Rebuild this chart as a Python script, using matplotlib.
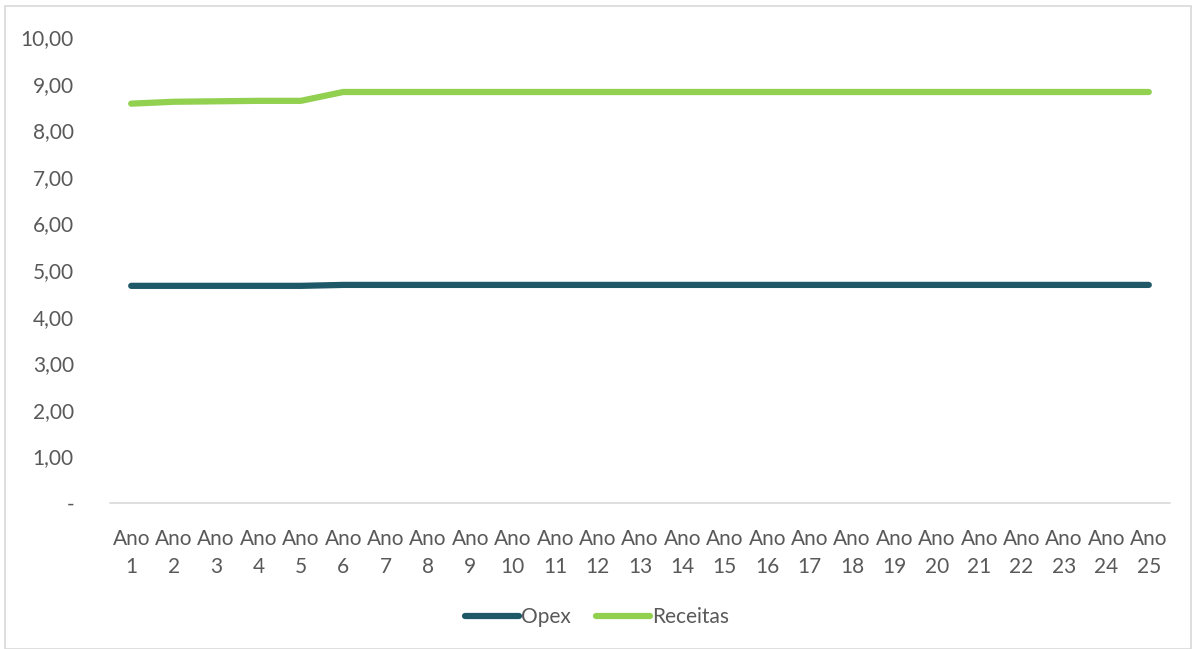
import numpy as np
import matplotlib.pyplot as plt
from matplotlib.patches import Rectangle

# dados
anos = [f"Ano\n{i}" for i in range(1, 26)]
opex = [4.66, 4.66, 4.66, 4.66, 4.66] + [4.68] * 20
receitas = [8.57, 8.61, 8.62, 8.63, 8.63] + [8.82] * 20

plt.rcParams["font.family"] = ["Lato", "DejaVu Sans"]
text_color = "#595959"

fig = plt.figure(figsize=(11.94, 6.49), dpi=100)
ax = fig.add_axes([110 / 1194, 146 / 649, 1060 / 1194, 466 / 649])

# borda do gráfico
fig.patches.append(Rectangle((5 / 1194, 0.0), 1186 / 1194, 643 / 649,
                             transform=fig.transFigure, fill=False,
                             edgecolor="#D9D9D9", linewidth=1.2))

x = np.arange(len(anos))
ax.plot(x, opex, color="#1F5968", linewidth=4.5, solid_capstyle="round", label="Opex")
ax.plot(x, receitas, color="#92D050", linewidth=4.5, solid_capstyle="round", label="Receitas")

ax.set_xlim(-0.5, len(anos) - 0.5)
ax.set_ylim(0, 10)
ax.set_yticks(range(0, 11))
ax.set_yticklabels(["-"] + [f"{v},00" for v in range(1, 11)])
ax.set_xticks(x)
ax.set_xticklabels(anos, linespacing=1.45)

for s in ["top", "right", "left"]:
    ax.spines[s].set_visible(False)
ax.spines["bottom"].set_color("#D9D9D9")
ax.spines["bottom"].set_linewidth(1.2)
ax.tick_params(axis="both", length=0, labelsize=15, colors=text_color)
ax.tick_params(axis="y", pad=26)
ax.tick_params(axis="x", pad=19)
for lbl in ax.get_yticklabels():
    lbl.set_horizontalalignment("right")

leg = fig.legend(loc="center", bbox_to_anchor=(0.5, 32 / 649), ncol=2, frameon=False,
                 fontsize=15, handlelength=2.6, handletextpad=0.1, columnspacing=1.2,
                 labelcolor=text_color)

plt.savefig("out.png", dpi=100)
